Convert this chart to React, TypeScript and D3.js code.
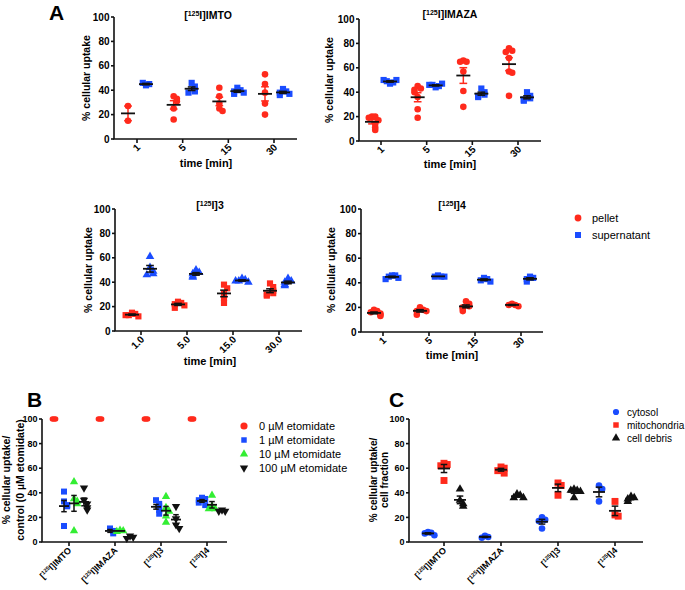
import React from 'react';
import * as d3 from 'd3';

const RED = '#ff2a1c';
const BLUE = '#1a4cff';
const GREEN = '#33ee33';
const BLACK = '#111111';
const FONT = '"Liberation Sans", Arial, sans-serif';

const yTicks = [0, 20, 40, 60, 80, 100];
const timeCats = ['1', '5', '15', '30'];
const timeCats3 = ['1.0', '5.0', '15.0', '30.0'];
const compounds = ['IMTO', 'IMAZA', '3', '4'];

// Panel A – [125I]IMTO
const imtoPellet = [[27, 15], [35, 33, 31, 25, 16], [42, 35, 29, 25, 23], [53, 45, 38, 29, 20]];
const imtoSup = [[44, 45, 46], [46, 43, 40, 39, 38], [42, 40, 39, 37, 38], [41, 39, 38, 36, 37]];
// Panel A – [125I]IMAZA
const imazaPellet = [[20, 20, 19, 17, 14, 11, 9], [45, 43, 42, 40, 36, 26, 19], [66, 65, 65, 57, 41, 28], [76, 74, 73, 68, 57, 56, 37]];
const imazaSup = [[47, 48, 49, 50, 50], [44, 45, 46, 47, 46], [43, 40, 38, 37, 36], [40, 37, 35, 34, 33]];
// Panel A – [125I]3
const c3Pellet = [[15, 14, 13, 12, 13], [24, 23, 22, 21, 19], [38, 35, 31, 27, 23], [39, 36, 33, 31, 30, 29]];
const c3Sup = [[61, 52, 49, 47, 46], [50, 48, 47, 45, 44], [43, 42, 41, 40, 41], [43, 41, 40, 38, 37]];
// Panel A – [125I]4
const c4Pellet = [[18, 17, 16, 15, 14, 13], [20, 18, 17, 17, 14], [25, 23, 21, 20, 19, 17], [23, 22, 22, 21]];
const c4Sup = [[46, 46, 45, 44, 43], [46, 45, 45, 45], [44, 43, 42, 41], [45, 44, 43, 41]];

// Panel B – etomidate
const eto0 = [[100, 100, 100], [100, 100, 100], [100, 100, 100], [100, 100, 100]];
const eto1 = [[41, 33, 30, 29, 13], [11, 9, 7], [34, 31, 29, 26, 23], [36, 35, 34, 32, 30]];
const eto10 = [[49, 35, 33, 31, 9], [9.5, 9, 8.5], [37, 28, 25, 21, 16], [38, 29, 27, 27]];
const eto100 = [[44, 34, 31, 28, 26], [5, 4, 3], [29, 19, 14, 11], [26, 25, 25]];
const etoLegend = ['0 µM etomidate', '1 µM etomidate', '10 µM etomidate', '100 µM etomidate'];

// Panel C – cell fractions
const cytosol = [[8, 7.5, 7, 5.5], [5, 4, 3.5], [20, 18, 17, 11], [46, 43, 33]];
const mito = [[64, 63, 62, 50], [61, 60, 58, 56], [48, 46, 38], [33, 22, 21]];
const debris = [[43, 34, 31, 29], [39, 38, 36, 36], [43, 42, 42, 41, 36], [37, 36, 35, 33]];
const fractionLegend = ['cytosol', 'mitochondria', 'cell debris'];

type Series = { data: number[][]; color: string; shape: string; dx: number; err: string; size: number; meanW: number; spread?: number };

function symPath(shape: string, size: number) {
  const t = shape === 'circle' ? d3.symbolCircle : shape === 'square' ? d3.symbolSquare : d3.symbolTriangle;
  return d3.symbol().type(t).size(size)() as string;
}

function Marker({ shape, color, size, x, y }: { shape: string; color: string; size: number; x: number; y: number }) {
  const rot = shape === 'down' ? ' rotate(180)' : '';
  return <path d={symPath(shape, size)} fill={color} transform={`translate(${x},${y})${rot}`} />;
}

function swarm(vals: number[], ys: (v: number) => number, step: number) {
  const placed: { y: number }[] = [];
  return vals.map((v) => {
    const y = ys(v);
    const k = placed.filter((p) => Math.abs(p.y - y) < 4.5).length;
    placed.push({ y });
    if (k === 0) return 0;
    return (k % 2 === 1 ? 1 : -1) * Math.ceil(k / 2) * step;
  });
}

function CompLabel({ name, x, y, size }: { name: string; x: number; y: number; size: number }) {
  return (
    <text x={x} y={y} fontSize={size} fontWeight="bold" fontFamily={FONT} textAnchor="end" transform={`rotate(-45,${x},${y})`}>
      [<tspan fontSize={size * 0.62} dy={-size * 0.35}>125</tspan>
      <tspan dy={size * 0.35}>I]{name}</tspan>
    </text>
  );
}

type PanelProps = {
  left: number; right: number; top: number; bottom: number; x0: number; x1: number;
  cats: string[]; series: Series[]; compoundLabels?: boolean; tickFont?: number;
};

function Panel({ left, right, top, bottom, x0, x1, cats, series, compoundLabels, tickFont = 10 }: PanelProps) {
  const y = d3.scaleLinear().domain([0, 100]).range([bottom, top]);
  const x = d3.scalePoint<string>().domain(cats).range([x0, x1]);
  return (
    <g>
      {series.map((s, si) => (
        <g key={si}>
          {s.data.map((vals, ci) => {
            const cx = (x(cats[ci]) as number) + s.dx;
            const offs = swarm(vals, y, s.spread ?? 3.2);
            const shift = s.spread !== undefined ? -(d3.mean(offs) as number) : 0;
            return vals.map((v, vi) => (
              <Marker key={vi} shape={s.shape} color={s.color} size={s.size} x={cx + offs[vi] + shift} y={y(v)} />
            ));
          })}
        </g>
      ))}
      {series.map((s, si) => (
        <g key={'e' + si}>
          {s.data.map((vals, ci) => {
            const cx = (x(cats[ci]) as number) + s.dx;
            const m = d3.mean(vals) as number;
            const sem = vals.length > 1 ? (d3.deviation(vals) as number) / Math.sqrt(vals.length) : 0;
            const capW = s.meanW * 0.55;
            return (
              <g key={ci}>
                {sem > 0.3 && (
                  <g stroke={s.err} strokeWidth={1.5}>
                    <line x1={cx} x2={cx} y1={y(m - sem)} y2={y(m + sem)} />
                    <line x1={cx - capW} x2={cx + capW} y1={y(m - sem)} y2={y(m - sem)} />
                    <line x1={cx - capW} x2={cx + capW} y1={y(m + sem)} y2={y(m + sem)} />
                  </g>
                )}
                {s.meanW > 0 && <line x1={cx - s.meanW} x2={cx + s.meanW} y1={y(m)} y2={y(m)} stroke={BLACK} strokeWidth={1.8} />}
              </g>
            );
          })}
        </g>
      ))}
      <g stroke={BLACK} strokeWidth={1.6} fill="none">
        <path d={`M${left},${top}V${bottom}H${right}`} />
        {yTicks.map((t) => (
          <line key={t} x1={left - 3} x2={left} y1={y(t)} y2={y(t)} />
        ))}
        {cats.map((c) => (
          <line key={c} x1={x(c)} x2={x(c)} y1={bottom} y2={bottom + 4} />
        ))}
      </g>
      {yTicks.map((t) => (
        <text key={t} x={left - 4.5} y={y(t) + tickFont * 0.36} fontSize={tickFont} fontWeight="bold" fontFamily={FONT} textAnchor="end">{t}</text>
      ))}
      {cats.map((c) =>
        compoundLabels ? (
          <CompLabel key={c} name={c} x={(x(c) as number) + 3} y={bottom + 9} size={tickFont} />
        ) : (
          <text key={c} x={(x(c) as number) + 4} y={bottom + 9} fontSize={tickFont} fontWeight="bold" fontFamily={FONT} textAnchor="end"
            transform={`rotate(-45,${(x(c) as number) + 4},${bottom + 9})`}>{c}</text>
        )
      )}
    </g>
  );
}

function Title({ x, y, name }: { x: number; y: number; name: string }) {
  return (
    <text x={x} y={y} fontSize={10.5} fontWeight="bold" fontFamily={FONT} textAnchor="middle">
      [<tspan fontSize={7} dy={-3.5}>125</tspan><tspan dy={3.5}>I]{name}</tspan>
    </text>
  );
}

function VLabel({ x, y, lines, size, gap }: { x: number; y: number; lines: string[]; size: number; gap?: number }) {
  return (
    <g>
      {lines.map((l, i) => (
        <text key={i} x={0} y={0} fontSize={size} fontWeight="bold" fontFamily={FONT} textAnchor="middle"
          transform={`translate(${x + i * (gap ?? size + 3)},${y}) rotate(-90)`}>{l}</text>
      ))}
    </g>
  );
}

function HLabel({ x, y, text }: { x: number; y: number; text: string }) {
  return <text x={x} y={y} fontSize={11} fontWeight="bold" fontFamily={FONT} textAnchor="middle">{text}</text>;
}

const pelletS = (data: number[][], err: string, shape = 'circle'): Series => ({ data, color: RED, shape, dx: -9, err, size: shape === 'square' ? 38 : 34, meanW: 7 });
const supS = (data: number[][], shape = 'square'): Series => ({ data, color: BLUE, shape, dx: 9, err: BLACK, size: shape === 'square' ? 38 : 32, meanW: 7 });

export default function App() {
  const bSeries: Series[] = [
    { data: eto0, color: RED, shape: 'circle', dx: -15, err: BLACK, size: 24, meanW: 0, spread: 1.6 },
    { data: eto1, color: BLUE, shape: 'square', dx: -5, err: BLACK, size: 36, meanW: 5 },
    { data: eto10, color: GREEN, shape: 'triangle', dx: 5, err: BLACK, size: 30, meanW: 5 },
    { data: eto100, color: BLACK, shape: 'down', dx: 15, err: BLACK, size: 30, meanW: 5 },
  ];
  const bColors = [RED, BLUE, GREEN, BLACK];
  const bShapes = ['circle', 'square', 'triangle', 'down'];
  const cSeries: Series[] = [
    { data: cytosol, color: BLUE, shape: 'circle', dx: -16, err: BLACK, size: 34, meanW: 6 },
    { data: mito, color: RED, shape: 'square', dx: 0, err: BLACK, size: 48, meanW: 6 },
    { data: debris, color: BLACK, shape: 'triangle', dx: 16, err: BLACK, size: 32, meanW: 6 },
  ];
  const cColors = [BLUE, RED, BLACK];
  const cShapes = ['circle', 'square', 'triangle'];
  return (
    <svg width={685} height={590} style={{ position: 'absolute', left: 0, top: 0, background: '#fff' }}>
      <rect width={685} height={590} fill="#fff" />
      {/* Panel A */}
      <text x={49} y={20} fontSize={21} fontWeight="bold" fontFamily={FONT}>A</text>
      <Panel left={114} right={297} top={17} bottom={139} x0={137} x1={274} cats={timeCats}
        series={[pelletS(imtoPellet, RED), supS(imtoSup)]} />
      <Title x={208} y={19} name="IMTO" />
      <VLabel x={90} y={78} lines={['% cellular uptake']} size={10.5} />
      <HLabel x={206} y={167} text="time [min]" />

      <Panel left={359} right={541} top={19} bottom={141} x0={381} x1={518} cats={timeCats}
        series={[pelletS(imazaPellet, RED), supS(imazaSup)]} />
      <Title x={450} y={18} name="IMAZA" />
      <VLabel x={333} y={80} lines={['% cellular uptake']} size={10.5} />
      <HLabel x={450} y={168} text="time [min]" />

      <Panel left={115} right={302} top={209} bottom={331} x0={141} x1={279} cats={timeCats3}
        series={[pelletS(c3Pellet, BLACK, 'square'), supS(c3Sup, 'triangle')]} />
      <Title x={210} y={209} name="3" />
      <VLabel x={92} y={270} lines={['% cellular uptake']} size={10.5} />
      <HLabel x={210} y={365} text="time [min]" />

      <Panel left={361} right={543} top={209} bottom={332} x0={383} x1={521} cats={timeCats}
        series={[pelletS(c4Pellet, BLACK), supS(c4Sup)]} />
      <Title x={452} y={209} name="4" />
      <VLabel x={335} y={270} lines={['% cellular uptake']} size={10.5} />
      <HLabel x={452} y={359} text="time [min]" />

      {/* Legend A */}
      {['pellet', 'supernatant'].map((l, i) => (
        <g key={l}>
          <Marker shape={i === 0 ? 'circle' : 'square'} color={i === 0 ? RED : BLUE} size={36} x={578} y={218 + i * 17} />
          <text x={592} y={222 + i * 17} fontSize={11} fontFamily={FONT}>{l}</text>
        </g>
      ))}

      {/* Panel B */}
      <text x={27} y={407} fontSize={21} fontWeight="bold" fontFamily={FONT}>B</text>
      <Panel left={42} right={227} top={419} bottom={542} x0={69} x1={207} cats={compounds} series={bSeries} compoundLabels tickFont={9} />
      <VLabel x={10} y={480} lines={['% cellular uptake/', 'control (0 µM etomidate)']} size={10.5} />
      {etoLegend.map((l, i) => (
        <g key={l}>
          <Marker shape={bShapes[i]} color={bColors[i]} size={i === 0 ? 40 : 30} x={244} y={426 + i * 14} />
          <text x={259} y={430 + i * 14} fontSize={11} fontFamily={FONT}>{l}</text>
        </g>
      ))}

      {/* Panel C */}
      <text x={389} y={407} fontSize={21} fontWeight="bold" fontFamily={FONT}>C</text>
      <Panel left={409} right={643} top={419} bottom={542} x0={444} x1={615} cats={compounds} series={cSeries} compoundLabels tickFont={9} />
      <VLabel x={377} y={480} lines={['% cellular uptake/', 'cell fraction']} size={10} gap={11} />
      {fractionLegend.map((l, i) => (
        <g key={l}>
          <Marker shape={cShapes[i]} color={cColors[i]} size={30} x={616} y={412 + i * 13} />
          <text x={627} y={416 + i * 13} fontSize={10} fontFamily={FONT}>{l}</text>
        </g>
      ))}
    </svg>
  );
}
